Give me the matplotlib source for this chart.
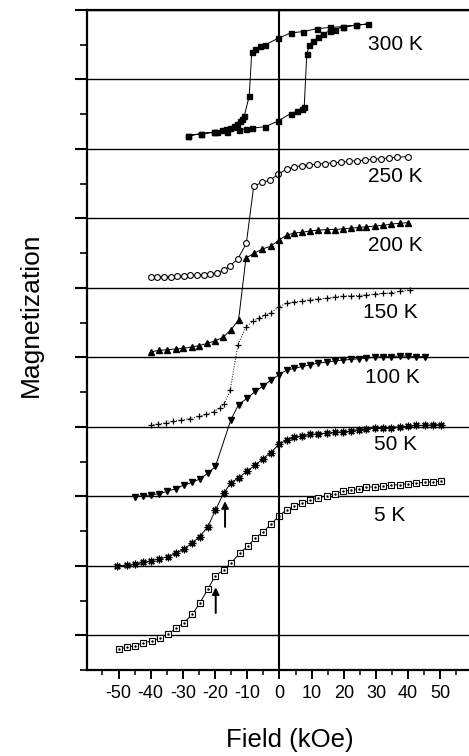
import matplotlib
matplotlib.use('Agg')
import matplotlib.pyplot as plt
from matplotlib.ticker import MultipleLocator, FixedLocator

plt.rcParams['font.family'] = ['Liberation Sans', 'DejaVu Sans']

# ---------------- data (field in kOe, magnetization in offset units) ----------------
h300 = [-28.4, -24.3, -20.4, -16.3, -12.7, -10.4, -8.4, -4.4, -0.5, 3.5, 5.4, 6.9, 7.7,
        8.5, 9.3, 10.5, 12.1, 13.6, 15.7, 17.2, 19.6, 23.7, 27.6,
        23.7, 19.6, 15.7, 11.6, 7.4, 3.5, -0.5, -4.4, -6.0, -7.5, -8.6,
        -9.4, -10.9, -11.7, -12.4, -13.2, -14.2, -15.3, -16.5, -17.9, -19.4, -20.4, -24.3, -28.4]
m300 = [7.19, 7.22, 7.24, 7.25, 7.27, 7.29, 7.30, 7.32, 7.40, 7.51, 7.54, 7.58, 7.61,
        8.37, 8.49, 8.55, 8.61, 8.66, 8.70, 8.71, 8.76, 8.78, 8.80,
        8.78, 8.76, 8.75, 8.73, 8.69, 8.67, 8.59, 8.50, 8.48, 8.44, 8.40,
        7.76, 7.48, 7.43, 7.40, 7.36, 7.33, 7.30, 7.28, 7.27, 7.25, 7.24, 7.22, 7.19]

h250 = [-40.0, -38.0, -35.9, -33.8, -31.8, -29.7, -27.7, -25.6, -23.5, -21.5, -19.4, -17.3,
        -15.3, -12.9, -10.3, -8.0, -5.5, -2.9, -0.3, 2.3, 4.6, 6.9, 9.3, 11.8, 14.2, 16.7,
        19.2, 21.7, 24.1, 26.6, 29.1, 31.6, 34.1, 36.6, 39.9]
m250 = [5.16, 5.15, 5.16, 5.16, 5.17, 5.17, 5.18, 5.18, 5.19, 5.20, 5.22, 5.26,
        5.32, 5.42, 5.64, 6.46, 6.52, 6.55, 6.64, 6.71, 6.74, 6.76, 6.77, 6.78, 6.79, 6.80,
        6.81, 6.82, 6.83, 6.84, 6.85, 6.86, 6.87, 6.88, 6.89]

h200 = [-40.0, -37.5, -34.9, -32.3, -29.9, -27.3, -24.9, -22.5, -19.9, -17.5, -15.0, -12.7,
        -10.4, -7.8, -5.3, -2.7, -0.1, 2.3, 4.6, 7.1, 9.5, 12.1, 14.7, 17.2, 19.6, 22.1,
        24.6, 27.0, 29.6, 32.2, 34.8, 37.4, 39.9]
m200 = [4.08, 4.10, 4.11, 4.12, 4.13, 4.15, 4.17, 4.20, 4.24, 4.29, 4.40, 4.54,
        5.43, 5.50, 5.56, 5.60, 5.69, 5.76, 5.79, 5.80, 5.82, 5.83, 5.84, 5.84, 5.85, 5.86,
        5.87, 5.88, 5.89, 5.90, 5.92, 5.93, 5.94]

h150 = [-40.0, -37.8, -35.4, -33.0, -30.5, -27.9, -25.1, -22.7, -20.4, -18.6, -17.1, -15.3,
        -12.9, -10.4, -8.3, -6.2, -4.4, -2.7, -0.1, 2.3, 4.6, 7.1, 9.5, 12.1, 14.7, 17.2,
        19.6, 22.1, 24.6, 27.0, 29.6, 32.2, 34.8, 37.4, 40.5]
m150 = [3.03, 3.04, 3.06, 3.08, 3.10, 3.12, 3.15, 3.18, 3.22, 3.27, 3.33, 3.53,
        4.18, 4.44, 4.52, 4.56, 4.61, 4.64, 4.73, 4.78, 4.80, 4.81, 4.83, 4.84, 4.85, 4.87,
        4.88, 4.89, 4.89, 4.90, 4.91, 4.92, 4.93, 4.95, 4.97]

h100 = [-44.9, -42.3, -39.8, -37.4, -34.9, -32.3, -29.7, -27.1, -24.8, -22.3, -19.9,
        -15.1, -12.7, -10.1, -7.5, -5.0, -2.7, -0.1, 2.3, 4.6, 7.1, 9.5, 12.1, 14.7, 17.2,
        19.6, 22.1, 24.6, 27.0, 29.6, 32.2, 34.8, 37.4, 39.9, 42.5, 45.1]
m100 = [1.99, 2.01, 2.02, 2.04, 2.07, 2.11, 2.16, 2.20, 2.25, 2.33, 2.43,
        3.10, 3.32, 3.41, 3.51, 3.59, 3.67, 3.75, 3.82, 3.84, 3.87, 3.89, 3.92, 3.93, 3.95,
        3.96, 3.97, 3.98, 3.99, 4.00, 4.01, 4.01, 4.02, 4.02, 4.01, 4.01]

h50 = [-50.4, -47.5, -44.9, -42.3, -39.8, -37.3, -34.7, -32.1, -29.7, -27.1, -24.8, -22.3,
       -19.9, -17.3, -15.1, -12.7, -10.1, -7.5, -5.2, -2.7, -0.1, 2.3, 4.6, 7.1, 9.5, 12.1,
       14.7, 17.2, 19.6, 22.1, 24.6, 27.0, 29.6, 32.2, 34.8, 37.4, 39.9, 42.5, 45.1, 47.7, 50.3]
m50 = [1.00, 1.01, 1.02, 1.05, 1.07, 1.10, 1.13, 1.18, 1.24, 1.33, 1.42, 1.56,
       1.80, 2.05, 2.19, 2.27, 2.36, 2.45, 2.54, 2.63, 2.75, 2.81, 2.85, 2.87, 2.89, 2.90,
       2.91, 2.92, 2.93, 2.94, 2.96, 2.97, 2.98, 2.98, 2.99, 3.00, 3.01, 3.02, 3.02, 3.03, 3.03]

h5 = [-49.8, -47.3, -44.9, -42.3, -39.7, -37.2, -34.6, -32.1, -29.7, -27.1, -24.8, -22.3,
      -19.9, -17.3, -15.0, -12.4, -9.9, -7.5, -5.0, -2.6, -0.1, 2.3, 4.6, 7.1, 9.5, 12.1,
      14.7, 17.2, 19.6, 22.1, 24.6, 27.0, 29.6, 32.2, 34.8, 37.4, 39.9, 42.5, 45.1, 47.7, 50.3]
m5 = [-0.20, -0.17, -0.15, -0.11, -0.08, -0.04, 0.02, 0.10, 0.18, 0.30, 0.46, 0.66,
      0.86, 0.94, 1.04, 1.18, 1.28, 1.40, 1.49, 1.60, 1.72, 1.81, 1.86, 1.90, 1.94, 1.98,
      2.01, 2.04, 2.07, 2.09, 2.11, 2.13, 2.14, 2.15, 2.16, 2.17, 2.18, 2.19, 2.20, 2.21, 2.22]

temp_labels = ['300 K', '250 K', '200 K', '150 K', '100 K', '50 K', '5 K']
label_x = [27.5, 27.5, 27.5, 26.0, 26.6, 29.4, 29.4]
label_y = [8.50, 6.61, 5.61, 4.65, 3.71, 2.75, 1.73]

arrow_x = [-16.9, -19.8]
arrow_tail = [1.56, 0.32]
arrow_head = [1.93, 0.69]

xticks = [-50, -40, -30, -20, -10, 0, 10, 20, 30, 40, 50]

# ---------------- figure ----------------
fig = plt.figure(figsize=(4.69, 7.56), dpi=100)
ax = fig.add_axes([87 / 469, 86 / 756, 382 / 469, 660 / 756])
ax.set_xlim(-59.8, 58.9)
ax.set_ylim(-0.5, 9)

lw = 0.7
ax.plot(h300, m300, '-', color='k', lw=lw, marker='s', ms=3.6, mfc='k', mec='k')
ax.plot(h250, m250, '-', color='k', lw=lw, marker='o', ms=4.2, mfc='white', mec='k', mew=0.8)
ax.plot(h200, m200, '-', color='k', lw=lw, marker='^', ms=5.0, mfc='k', mec='k')
ax.plot(h150, m150, ':', color='k', lw=lw, marker='+', ms=5.0, mec='k', mew=0.9)
ax.plot(h100, m100, '-', color='k', lw=lw, marker='v', ms=5.0, mfc='k', mec='k')
ax.plot(h50, m50, '-', color='k', lw=lw, marker=(8, 2, 0), ms=5.5, mec='k', mew=0.9)
ax.plot(h5, m5, '-', color='k', lw=lw, marker='s', ms=4.2, mfc='white', mec='k', mew=0.8)
ax.plot(h5, m5, linestyle='none', marker='.', ms=1.5, color='k')

for t, x, y in zip(temp_labels, label_x, label_y):
    ax.text(x, y, t, fontsize=15, ha='left', va='center')

for x, t, h in zip(arrow_x, arrow_tail, arrow_head):
    ax.annotate('', xy=(x, h), xytext=(x, t),
                arrowprops=dict(arrowstyle='-|>', color='k', lw=1.4,
                                mutation_scale=10, shrinkA=0, shrinkB=0))

# gridlines and zero line
ax.set_yticks(range(0, 10))
ax.yaxis.set_minor_locator(MultipleLocator(0.5))
ax.grid(axis='y', which='major', color='k', lw=1.0)
ax.set_axisbelow(True)
ax.axvline(0, color='k', lw=1.5)

ax.set_xticks(xticks)
ax.set_xticklabels([str(v) for v in xticks])
ax.xaxis.set_minor_locator(FixedLocator([-55, -45, -35, -25, -15, -5, 5, 15, 25, 35, 45, 55]))

ax.tick_params(axis='y', which='major', direction='out', length=8.5, width=1.5, labelleft=False)
ax.tick_params(axis='y', which='minor', direction='out', length=5, width=1.2)
ax.tick_params(axis='x', which='major', direction='out', length=6.5, width=1.4,
               labelsize=13, pad=4)
ax.tick_params(axis='x', which='minor', direction='out', length=3.5, width=1.1)

for s in ['left', 'bottom', 'top']:
    ax.spines[s].set_linewidth(1.6)
ax.spines['right'].set_visible(False)

fig.text(290 / 469, 1 - 740 / 756, 'Field (kOe)', fontsize=18.5, ha='center', va='center')
fig.text(31 / 469, 1 - 315 / 756, 'Magnetization', fontsize=19, ha='center', va='center',
         rotation=90)

fig.savefig('out.png', dpi=100)
